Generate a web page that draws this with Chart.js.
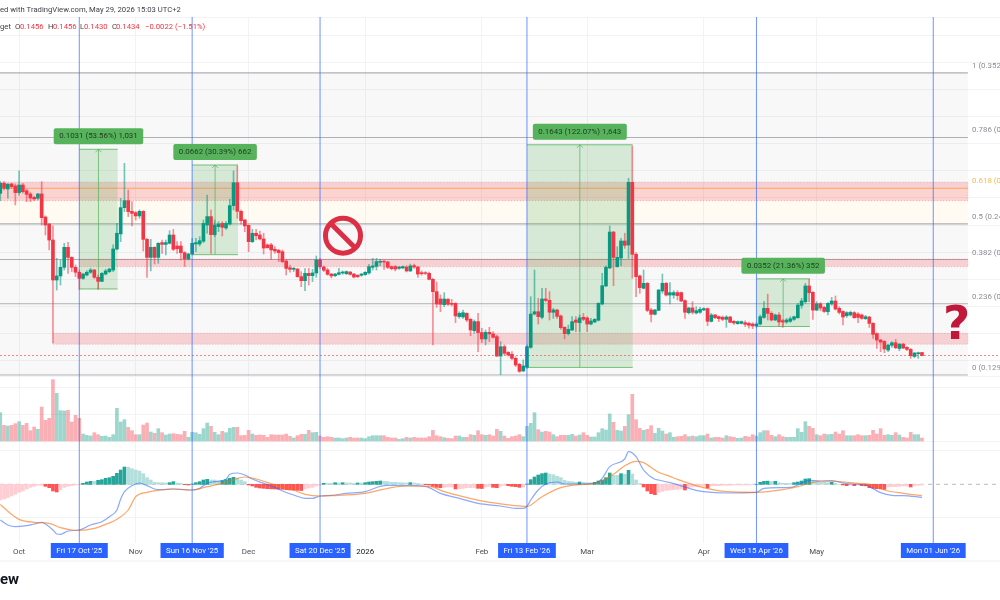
<!DOCTYPE html>
<html>
<head>
<meta charset="utf-8">
<title>Price chart</title>
<script src="https://cdn.jsdelivr.net/npm/chart.js@4/dist/chart.umd.min.js"></script>
<style>
  html, body { margin: 0; padding: 0; background: #fff; }
  canvas { display: block; }
</style>
</head>
<body>
<canvas id="grafico" width="1000" height="600"></canvas>
<script>
// daily candles, first one is 5 days before 1 Oct 2025
const firstDay = -5;

const opens = [
0.2631,0.2705,0.2663,0.2700,0.2685,0.2636,0.2692,0.2650,0.2626,0.2601,
0.2594,0.2626,0.2456,0.2404,0.2286,0.1991,0.2021,0.2085,0.2232,0.2158,
0.2085,0.2048,0.2003,0.2028,0.2048,0.2065,0.2011,0.1981,0.2035,0.2053,
0.2065,0.2220,0.2331,0.2525,0.2577,0.2498,0.2488,0.2464,0.2498,0.2291,
0.2158,0.2232,0.2158,0.2267,0.2254,0.2262,0.2323,0.2242,0.2242,0.2193,
0.2146,0.2183,0.2257,0.2257,0.2277,0.2397,0.2459,0.2326,0.2385,0.2409,
0.2375,0.2404,0.2540,0.2709,0.2498,0.2434,0.2395,0.2274,0.2336,0.2323,
0.2294,0.2250,0.2250,0.2218,0.2210,0.2200,0.2131,0.2082,0.2070,0.2072,
0.2016,0.1986,0.2040,0.2023,0.2043,0.2139,0.2087,0.2065,0.2035,0.2023,
0.2033,0.2043,0.2038,0.2050,0.2035,0.2026,0.2026,0.2031,0.2043,0.2085,
0.2092,0.2122,0.2129,0.2124,0.2090,0.2090,0.2077,0.2080,0.2087,0.2058,
0.2097,0.2087,0.2045,0.2045,0.2040,0.1996,0.1905,0.1851,0.1809,0.1848,
0.1819,0.1819,0.1721,0.1718,0.1745,0.1701,0.1617,0.1684,0.1603,0.1556,
0.1605,0.1593,0.1573,0.1430,0.1499,0.1457,0.1443,0.1413,0.1369,0.1320,
0.1347,0.1494,0.1740,0.1757,0.1716,0.1851,0.1841,0.1753,0.1770,0.1726,
0.1642,0.1595,0.1622,0.1696,0.1676,0.1716,0.1711,0.1666,0.1681,0.1694,
0.1814,0.1947,0.2080,0.2345,0.2090,0.2154,0.2279,0.2249,0.2712,0.2181,
0.2021,0.1930,0.1967,0.1770,0.1738,0.1767,0.1910,0.1967,0.1880,0.1880,
0.1898,0.1898,0.1839,0.1750,0.1785,0.1748,0.1753,0.1770,0.1780,0.1686,
0.1733,0.1721,0.1716,0.1701,0.1718,0.1686,0.1669,0.1671,0.1676,0.1671,
0.1666,0.1652,0.1666,0.1715,0.1782,0.1745,0.1696,0.1733,0.1691,0.1681,
0.1686,0.1701,0.1713,0.1804,0.1831,0.1947,0.1900,0.1769,0.1816,0.1789,
0.1757,0.1814,0.1836,0.1782,0.1759,0.1728,0.1733,0.1750,0.1740,0.1733,
0.1705,0.1718,0.1671,0.1595,0.1548,0.1538,0.1474,0.1509,0.1528,0.1486,
0.1518,0.1494,0.1479,0.1427,0.1447,0.1456];

const highs = [
0.2717,0.2717,0.2705,0.2705,0.2700,0.2796,0.2705,0.2660,0.2636,0.2611,
0.2631,0.2717,0.2464,0.2409,0.2390,0.2151,0.2139,0.2262,0.2269,0.2163,
0.2102,0.2065,0.2040,0.2060,0.2077,0.2070,0.2028,0.2045,0.2070,0.2077,
0.2250,0.2409,0.2594,0.2852,0.2655,0.2569,0.2496,0.2508,0.2503,0.2299,
0.2291,0.2237,0.2267,0.2286,0.2286,0.2355,0.2365,0.2274,0.2274,0.2200,
0.2188,0.2299,0.2299,0.2311,0.2434,0.2618,0.2508,0.2434,0.2422,0.2422,
0.2422,0.2587,0.2796,0.2833,0.2508,0.2439,0.2397,0.2365,0.2365,0.2353,
0.2336,0.2257,0.2262,0.2237,0.2218,0.2213,0.2139,0.2102,0.2085,0.2077,
0.2053,0.2075,0.2077,0.2070,0.2168,0.2151,0.2095,0.2077,0.2040,0.2040,
0.2077,0.2058,0.2058,0.2053,0.2040,0.2031,0.2040,0.2053,0.2107,0.2151,
0.2151,0.2144,0.2139,0.2129,0.2095,0.2099,0.2092,0.2095,0.2097,0.2109,
0.2109,0.2092,0.2058,0.2053,0.2050,0.2003,0.1976,0.1881,0.1898,0.1856,
0.1848,0.1824,0.1757,0.1770,0.1750,0.1708,0.1696,0.1745,0.1635,0.1622,
0.1642,0.1610,0.1585,0.1536,0.1512,0.1462,0.1462,0.1425,0.1376,0.1401,
0.1512,0.1868,0.2065,0.1856,0.1930,0.1930,0.1905,0.1782,0.1777,0.1733,
0.1647,0.1659,0.1721,0.1721,0.1733,0.1745,0.1721,0.1708,0.1706,0.1824,
0.2040,0.2095,0.2390,0.2350,0.2237,0.2299,0.2336,0.2742,0.2980,0.2193,
0.2028,0.2065,0.1972,0.1782,0.1775,0.1922,0.2035,0.1972,0.1972,0.1912,
0.1912,0.1903,0.1844,0.1789,0.1831,0.1794,0.1789,0.1787,0.1785,0.1745,
0.1738,0.1726,0.1726,0.1728,0.1723,0.1691,0.1689,0.1689,0.1689,0.1681,
0.1676,0.1676,0.1733,0.1831,0.1887,0.1757,0.1740,0.1750,0.1701,0.1708,
0.1720,0.1725,0.1819,0.1856,0.1966,0.1996,0.1905,0.1831,0.1824,0.1799,
0.1824,0.1863,0.1873,0.1794,0.1764,0.1757,0.1762,0.1757,0.1750,0.1740,
0.1730,0.1723,0.1676,0.1602,0.1553,0.1543,0.1518,0.1536,0.1553,0.1523,
0.1523,0.1499,0.1486,0.1457,0.1459,0.1456];

const lows = [
0.2577,0.2655,0.2594,0.2668,0.2545,0.2618,0.2631,0.2569,0.2569,0.2577,
0.2582,0.2397,0.2323,0.2213,0.1524,0.1917,0.1954,0.2065,0.2040,0.2053,
0.2016,0.1922,0.1996,0.2021,0.2040,0.2003,0.1922,0.1979,0.2028,0.2045,
0.2053,0.2213,0.2274,0.2496,0.2459,0.2390,0.2434,0.2446,0.2205,0.2011,
0.2058,0.2109,0.2114,0.2188,0.2176,0.2257,0.2208,0.2188,0.2139,0.2090,
0.2139,0.2176,0.2200,0.2242,0.2267,0.2336,0.2188,0.2311,0.2348,0.2316,
0.2365,0.2397,0.2508,0.2446,0.2404,0.2348,0.2200,0.2267,0.2286,0.2286,
0.2183,0.2225,0.2144,0.2188,0.2127,0.2119,0.2028,0.2048,0.2053,0.2011,
0.1942,0.1912,0.1954,0.1979,0.2011,0.2077,0.2053,0.2026,0.2006,0.2016,
0.2028,0.2033,0.2031,0.2026,0.2006,0.2008,0.2018,0.2026,0.2035,0.2065,
0.2065,0.2095,0.2070,0.2075,0.2065,0.2058,0.2070,0.2075,0.2050,0.2053,
0.2077,0.2011,0.2026,0.2031,0.1991,0.1512,0.1789,0.1757,0.1794,0.1804,
0.1799,0.1676,0.1708,0.1708,0.1684,0.1580,0.1598,0.1462,0.1529,0.1512,
0.1536,0.1561,0.1425,0.1293,0.1438,0.1430,0.1401,0.1352,0.1310,0.1315,
0.1339,0.1487,0.1733,0.1666,0.1703,0.1831,0.1696,0.1708,0.1708,0.1627,
0.1556,0.1585,0.1617,0.1610,0.1610,0.1691,0.1610,0.1659,0.1676,0.1689,
0.1807,0.1942,0.2075,0.1949,0.2085,0.2097,0.2225,0.2151,0.2004,0.1868,
0.1893,0.1925,0.1757,0.1681,0.1733,0.1765,0.1893,0.1873,0.1814,0.1856,
0.1844,0.1831,0.1708,0.1740,0.1740,0.1740,0.1745,0.1765,0.1654,0.1681,
0.1706,0.1684,0.1691,0.1642,0.1676,0.1664,0.1664,0.1666,0.1647,0.1635,
0.1632,0.1642,0.1659,0.1708,0.1696,0.1688,0.1691,0.1651,0.1641,0.1671,
0.1678,0.1693,0.1708,0.1782,0.1819,0.1831,0.1701,0.1764,0.1764,0.1752,
0.1733,0.1804,0.1769,0.1740,0.1659,0.1715,0.1725,0.1708,0.1676,0.1701,
0.1701,0.1641,0.1560,0.1486,0.1462,0.1455,0.1462,0.1494,0.1484,0.1469,
0.1484,0.1469,0.1413,0.1418,0.1413,0.1430];

const closes = [
0.2705,0.2668,0.2697,0.2680,0.2636,0.2692,0.2643,0.2623,0.2596,0.2589,
0.2626,0.2451,0.2397,0.2286,0.1991,0.2021,0.2085,0.2232,0.2158,0.2085,
0.2048,0.2003,0.2035,0.2048,0.2065,0.2011,0.1981,0.2040,0.2058,0.2072,
0.2220,0.2336,0.2525,0.2577,0.2496,0.2483,0.2464,0.2498,0.2291,0.2158,
0.2232,0.2158,0.2262,0.2254,0.2267,0.2323,0.2218,0.2222,0.2193,0.2146,
0.2183,0.2262,0.2267,0.2281,0.2409,0.2459,0.2326,0.2397,0.2404,0.2380,
0.2409,0.2540,0.2709,0.2498,0.2429,0.2390,0.2274,0.2336,0.2318,0.2294,
0.2227,0.2230,0.2213,0.2205,0.2193,0.2127,0.2077,0.2070,0.2077,0.2016,
0.1986,0.2040,0.2023,0.2043,0.2139,0.2090,0.2063,0.2033,0.2021,0.2035,
0.2045,0.2050,0.2053,0.2033,0.2013,0.2016,0.2035,0.2048,0.2090,0.2095,
0.2127,0.2129,0.2124,0.2085,0.2075,0.2072,0.2087,0.2090,0.2058,0.2095,
0.2087,0.2035,0.2038,0.2040,0.1996,0.1905,0.1814,0.1812,0.1851,0.1812,
0.1812,0.1726,0.1745,0.1750,0.1696,0.1622,0.1684,0.1603,0.1556,0.1605,
0.1593,0.1568,0.1430,0.1499,0.1450,0.1438,0.1413,0.1364,0.1317,0.1357,
0.1499,0.1740,0.1757,0.1721,0.1851,0.1841,0.1753,0.1770,0.1723,0.1639,
0.1595,0.1627,0.1684,0.1679,0.1711,0.1701,0.1666,0.1689,0.1701,0.1819,
0.1949,0.2085,0.2345,0.2158,0.2158,0.2279,0.2247,0.2712,0.2181,0.2016,
0.1935,0.1967,0.1767,0.1738,0.1770,0.1917,0.1967,0.1880,0.1898,0.1898,
0.1876,0.1836,0.1753,0.1785,0.1753,0.1765,0.1775,0.1780,0.1686,0.1733,
0.1713,0.1706,0.1701,0.1718,0.1679,0.1674,0.1684,0.1684,0.1664,0.1657,
0.1652,0.1666,0.1720,0.1782,0.1745,0.1696,0.1733,0.1681,0.1681,0.1696,
0.1705,0.1720,0.1806,0.1836,0.1947,0.1897,0.1769,0.1816,0.1784,0.1759,
0.1819,0.1836,0.1777,0.1752,0.1718,0.1750,0.1752,0.1713,0.1715,0.1708,
0.1720,0.1671,0.1590,0.1548,0.1533,0.1482,0.1511,0.1528,0.1491,0.1518,
0.1489,0.1479,0.1432,0.1452,0.1454,0.1434];

const volumes = [
85,47,45,47,52,58,47,53,31,42,
35,102,62,68,184,143,91,90,92,57,
77,68,21,17,15,25,19,14,15,11,
19,98,57,64,41,31,19,19,48,54,
27,23,37,25,18,21,22,20,19,29,
11,26,25,20,37,54,44,26,19,29,
25,38,41,41,16,17,32,21,17,18,
17,11,19,18,18,18,21,14,9,16,
20,20,32,25,26,15,11,13,11,9,
9,7,9,11,9,9,9,7,13,16,
16,16,16,11,9,9,5,7,11,9,
11,9,9,9,13,32,16,13,10,8,
7,15,15,11,11,19,17,31,19,17,
19,15,35,29,15,8,13,15,19,13,
44,53,85,34,27,29,27,19,13,17,
17,17,20,15,18,25,17,12,12,25,
37,33,81,56,32,30,44,79,140,64,
38,32,35,46,23,38,30,21,25,11,
13,14,19,13,15,13,16,16,21,9,
11,11,9,16,13,11,8,9,14,12,
19,15,25,31,31,17,13,19,13,11,
11,11,37,26,58,44,38,19,16,21,
19,20,27,21,31,16,16,16,19,16,
16,17,32,21,37,17,19,17,25,18,
11,9,26,19,19,9];

const histogram = [
-47,-44,-40,-35,-30,-24,-20,-14,-9,-6,
-3,-3,-6,-10,-20,-23,-16,-9,-6,-4,
-2,-1,3,7,9,9,12,14,18,20,
24,33,43,52,51,47,43,40,32,20,
13,6,5,5,4,5,8,4,3,-1,
-2,1,5,8,13,15,13,13,10,11,
14,18,21,19,13,8,-2,-5,-9,-11,
-12,-13,-13.5,-14,-14.5,-15,-16,-17,-17.5,-18,
-18.5,-14,-11,-9,-5,-2,3,3,3,5,
4,5,4,4,2,4,4,5,7,8,
9,10,9,8,6,6,5,5,4,5,
4,2,1,-1,-2,-6,-9,-10,-9,-8,
-8,-14,-14,-12,-10,-10,-10,-12,-12.5,-8,
-6,-9,-10,-5,-3,-4,-6,-7,-9,-8,
1,14,22,28,32,34,31,29,24,20,
12,9,8,6,7,6,5,5,6,10,
13,20,34,27,27,32,30,42,31,13,
2,-8,-20,-28,-31,-24,-21,-18,-17,-16,
-15,-14,-17,-10,-8,-6,-5,-5,-11,-5,
-4,-4,-3,-3,-3,-2,-2,-2,-2,-2,
-1,0,6,9,9.5,8,9,5,3,3,
3,5,7,10,16,17,10,8,6,6,
5,6,3,0,-2,-4,-2,-4,-3,-4,
-4.5,-10,-12,-13,-14,-15,-8,-7,-7,-6,
-5,-5,-8,-4,-3,-2];

const macdDays = [-5,-3,-1,2,4,6,7,9,10,11,13,16,19,22,24,26,27,28,30,32,34,36,38,41,44,46,48,50,52,55,56,58,60,62,65,68,70,73,76,78,80,83,87,92,94,96,98,104,108,112,117,122,128,132,134,135,136,138,140,143,145,149,153,155,157,161,162,164,166,169,170,173,174,180,182,188,196,198,205,207,210,213,216,220,225,229,232,235,240];
const macdValues = [-107,-122,-127,-124,-119,-114,-119,-137,-149,-150,-140,-137,-122,-112,-97,-77,-44,-22,-4,4,-4,-14,-16,-14,-16,-17,-12,3,8,15,30,34,28,16,3,-9,-20,-32,-42,-42,-35,-33,-27,-22,-14,-6,-3,-4,-6,-27,-42,-57,-65,-72,-72,-66,-47,-17,1,7,1,1,3,18,53,76,98,83,43,15,13,5,2,-18,-22,-26,-24,-12,-9,-2,12,10,11,2,-2,-25,-33,-34,-39];

const signalDays = [-5,-2,0,4,8,11,14,16,20,23,26,29,31,34,37,41,46,50,55,60,63,68,73,76,80,83,92,98,103,109,113,118,124,129,135,139,144,149,153,158,161,164,166,169,170,173,175,182,188,196,204,207,211,215,223,227,230,235,240];
const signalValues = [-60,-90,-105,-114,-117,-130,-137,-138,-132,-120,-105,-77,-37,-24,-18,-14,-17,-7,6,22,16,-2,-17,-30,-35,-34,-27,-12,-5,-6,-22,-37,-52,-60,-66,-37,-10,-1,2,30,56,69,65,43,36,24,15,-10,-22,-24,-14,-7,6,10,3,-2,-17,-27,-34];

const tickDays = [0,31,61,92,123,151,182,212];
const tickLabels = ['Oct','Nov','Dec','2026','Feb','Mar','Apr','May'];

const markerDays = [16,46,80,135,196,243];
const markerLabels = ["Fri 17 Oct '25","Sun 16 Nov '25","Sat 20 Dec '25","Fri 13 Feb '26","Wed 15 Apr '26","Mon 01 Jun '26"];

const fibRatios = ['1','0.786','0.618','0.5','0.382','0.236','0'];
const fibPrices = [0.3520,0.3043,0.2668,0.2405,0.2142,0.1816,0.1290];
const fibEndDay = 252.2;

const zoneStartDays = [-6,16,9.1];
const zoneTops = [0.2714,0.2146,0.1598];
const zoneBottoms = [0.2576,0.2089,0.1517];

const toolStartDays = [16,46,135,196];
const toolEndDays = [26.2,58.2,163.1,210.2];
const toolLows = [0.1925,0.2178,0.1346,0.1648];
const toolHighs = [0.2956,0.2840,0.2989,0.2000];
const toolTexts = ['0.1031 (53.56%) 1,031','0.0662 (30.39%) 662','0.1643 (122.07%) 1,643','0.0352 (21.36%) 352'];

const gridPrices = [0.1283,0.14,0.16,0.18,0.20,0.22,0.24,0.26,0.28,0.30,0.32,0.34,0.36,0.38,0.3932];
const gridVolumes = [0,81,162];
const gridMacd = [-98,103];

const lastPrice = 0.1434;
const noEntryDay = 86.1;
const noEntryPrice = 0.2318;
const questionDay = 249.2;
const questionPrice = 0.1645;

const days = opens.map((_, i) => firstDay + i);
const RED = '#f23645';
const GREEN = '#089981';
const FONT = 'Roboto, sans-serif';

function hexAlpha(cor, a) {
    const n = parseInt(cor.slice(1), 16);
    return `rgba(${n >> 16}, ${(n >> 8) & 255}, ${n & 255}, ${a})`;
}

const candleColors = closes.map((c, i) => c >= opens[i] ? GREEN : RED);

const histColors = histogram.map((v, i) => {
    const prev = i > 0 ? histogram[i - 1] : v;
    if (v >= 0) return v > prev ? '#26a69a' : '#b2dfdb';
    return v < prev ? '#ff5252' : '#ffcdd2';
});

function hline(ctx, x1, x2, y, cor, largura, dash) {
    ctx.save();
    ctx.strokeStyle = cor;
    ctx.lineWidth = largura;
    ctx.setLineDash(dash || []);
    ctx.beginPath();
    ctx.moveTo(x1, y);
    ctx.lineTo(x2, y);
    ctx.stroke();
    ctx.restore();
}

// fibonacci bands, zones and measure boxes, under the candles
const fundoPlugin = {
    id: 'fundo',
    beforeDatasetsDraw(chart) {
        const { ctx, scales } = chart;
        const xs = scales.x, ys = scales.yPreco;
        const fimFib = xs.getPixelForValue(fibEndDay);

        gridPrices.forEach(p => hline(ctx, 0, 1000, Math.round(ys.getPixelForValue(p)) + 0.5, '#f2f3f5', 1));
        gridVolumes.forEach(v => hline(ctx, 0, 1000, Math.round(scales.yVolume.getPixelForValue(v)) + 0.5, '#f2f3f5', 1));
        gridMacd.forEach(v => hline(ctx, 0, 1000, Math.round(scales.yMacd.getPixelForValue(v)) + 0.5, '#f2f3f5', 1));

        fibPrices.forEach((p, i) => {
            if (i === 0) return;
            const y1 = ys.getPixelForValue(fibPrices[i - 1]);
            const y2 = ys.getPixelForValue(p);
            ctx.fillStyle = fibRatios[i] === '0.5' ? 'rgba(255,183,77,0.07)' : 'rgba(120,123,134,0.055)';
            ctx.fillRect(0, y1, fimFib, y2 - y1);
        });
        fibPrices.forEach((p, i) => {
            const y = ys.getPixelForValue(p);
            if (fibRatios[i] === '0.618') hline(ctx, 0, fimFib, y, '#ffc05c', 1.1);
            else hline(ctx, 0, fimFib, y, 'rgba(120,123,134,0.58)', 1.1);
        });

        zoneTops.forEach((top, i) => {
            const x1 = xs.getPixelForValue(zoneStartDays[i]);
            const y1 = ys.getPixelForValue(top);
            const y2 = ys.getPixelForValue(zoneBottoms[i]);
            ctx.fillStyle = 'rgba(242,54,69,0.2)';
            ctx.fillRect(x1, y1, fimFib - x1, y2 - y1);
            ctx.save();
            ctx.strokeStyle = 'rgba(242,54,69,0.32)';
            ctx.setLineDash([1, 2]);
            ctx.strokeRect(x1, y1, fimFib - x1, y2 - y1);
            ctx.restore();
        });

        toolHighs.forEach((top, i) => {
            const x1 = xs.getPixelForValue(toolStartDays[i]);
            const x2 = xs.getPixelForValue(toolEndDays[i]);
            const y1 = ys.getPixelForValue(top);
            const y2 = ys.getPixelForValue(toolLows[i]);
            const meio = (x1 + x2) / 2;
            ctx.fillStyle = 'rgba(76,175,80,0.2)';
            ctx.fillRect(x1, y1, x2 - x1, y2 - y1);
            hline(ctx, x1, x2, y1, 'rgba(76,175,80,0.75)', 1);
            hline(ctx, x1, x2, y2, 'rgba(76,175,80,0.75)', 1);
            ctx.strokeStyle = 'rgba(76,175,80,0.65)';
            ctx.lineWidth = 1;
            ctx.beginPath();
            ctx.moveTo(meio, y2);
            ctx.lineTo(meio, y1);
            ctx.moveTo(meio - 3, y1 + 3);
            ctx.lineTo(meio, y1);
            ctx.lineTo(meio + 3, y1 + 3);
            ctx.stroke();
        });

        hline(ctx, 0, 1000, Math.round(ys.getPixelForValue(lastPrice)) + 0.5, 'rgba(242,54,69,0.6)', 1, [2, 2]);
        hline(ctx, 0, 1000, scales.yMacd.getPixelForValue(0), 'rgba(120,123,134,0.5)', 1, [4, 4]);
    },
    afterDatasetsDraw(chart) {
        const { ctx, scales } = chart;
        const xs = scales.x, ys = scales.yPreco;

        markerDays.forEach(d => {
            const x = xs.getPixelForValue(d);
            ctx.strokeStyle = 'rgba(41,98,255,0.68)';
            ctx.lineWidth = 1;
            ctx.beginPath();
            ctx.moveTo(x, chart.chartArea.top);
            ctx.lineTo(x, chart.chartArea.bottom);
            ctx.stroke();
        });

        // profit labels above the measure boxes
        ctx.font = '7.9px ' + FONT;
        ctx.textAlign = 'center';
        ctx.textBaseline = 'middle';
        toolTexts.forEach((t, i) => {
            const meio = (xs.getPixelForValue(toolStartDays[i]) + xs.getPixelForValue(toolEndDays[i])) / 2;
            const topo = ys.getPixelForValue(toolHighs[i]);
            const w = ctx.measureText(t).width + 11;
            ctx.fillStyle = '#56b25b';
            ctx.beginPath();
            ctx.roundRect(meio - w / 2, topo - 21, w, 16, 2);
            ctx.fill();
            ctx.fillStyle = '#1d3b20';
            ctx.fillText(t, meio, topo - 13);
        });

        // no-entry sign
        const cx = xs.getPixelForValue(noEntryDay);
        const cy = ys.getPixelForValue(noEntryPrice);
        ctx.strokeStyle = '#dc2f45';
        ctx.lineWidth = 5;
        ctx.beginPath();
        ctx.arc(cx, cy, 17.5, 0, Math.PI * 2);
        ctx.moveTo(cx - 12, cy - 12);
        ctx.lineTo(cx + 12, cy + 12);
        ctx.stroke();

        ctx.fillStyle = '#c1173a';
        ctx.font = 'bold 47px "DejaVu Sans"';
        ctx.fillText('?', xs.getPixelForValue(questionDay), ys.getPixelForValue(questionPrice));

        // fibonacci ratios on the right
        ctx.font = '7.9px ' + FONT;
        ctx.textAlign = 'left';
        ctx.textBaseline = 'alphabetic';
        fibPrices.forEach((p, i) => {
            ctx.fillStyle = fibRatios[i] === '0.618' ? '#ffb74d' : '#8a8d96';
            ctx.fillText(fibRatios[i] + ' (' + p.toFixed(4) + ')', 972, ys.getPixelForValue(p) - 5);
        });
    },
    afterDraw(chart) {
        const { ctx, scales } = chart;
        const xs = scales.x;

        hline(ctx, 0, 1000, 561, '#eceef1', 1);

        ctx.textBaseline = 'middle';
        ctx.textAlign = 'center';
        ctx.font = '7.9px ' + FONT;
        markerDays.forEach((d, i) => {
            const x = xs.getPixelForValue(d);
            const w = ctx.measureText(markerLabels[i]).width + 11;
            ctx.fillStyle = '#2962ff';
            ctx.fillRect(x - w / 2, 543, w, 15);
            ctx.fillStyle = '#fff';
            ctx.fillText(markerLabels[i], x, 551);
        });

        ctx.textAlign = 'left';
        ctx.fillStyle = '#3c3f47';
        ctx.font = '7.7px ' + FONT;
        ctx.fillText('ed with TradingView.com, May 29, 2026 15:03 UTC+2', 0, 10);
        ctx.fillText('get', 0, 27);

        const partes = [['O', 15, '#3c3f47'], ['0.1456', 20, RED], ['H', 48, '#3c3f47'], ['0.1456', 53, RED],
            ['L', 80, '#3c3f47'], ['0.1430', 84, RED], ['C', 112, '#3c3f47'], ['0.1434', 116, RED], ['\u22120.0022 (\u22121.51%)', 145, RED]];
        partes.forEach(([t, x, cor]) => {
            ctx.fillStyle = cor;
            ctx.fillText(t, x, 27);
        });

        ctx.fillStyle = '#131722';
        ctx.font = 'bold 15px ' + FONT;
        ctx.fillText('ew', 0, 580);
    }
};

new Chart(document.getElementById('grafico').getContext('2d'), {
    data: {
        datasets: [
            {
                type: 'line', xAxisID: 'x', yAxisID: 'yMacd', order: 0,
                data: macdDays.map((d, i) => ({ x: d, y: macdValues[i] })),
                borderColor: 'rgba(41,98,255,0.55)', borderWidth: 1.2, pointRadius: 0,
                cubicInterpolationMode: 'monotone'
            },
            {
                type: 'line', xAxisID: 'x', yAxisID: 'yMacd', order: -1,
                data: signalDays.map((d, i) => ({ x: d, y: signalValues[i] })),
                borderColor: 'rgba(255,109,0,0.6)', borderWidth: 1.2, pointRadius: 0,
                cubicInterpolationMode: 'monotone'
            },
            {
                type: 'bar', xAxisID: 'x', yAxisID: 'yMacd', order: 3, grouped: false,
                data: days.map((d, i) => ({ x: d, y: histogram[i] })),
                backgroundColor: histColors, barThickness: 3
            },
            {
                type: 'bar', xAxisID: 'x', yAxisID: 'yVolume', order: 3, grouped: false,
                data: days.map((d, i) => ({ x: d, y: volumes[i] })),
                backgroundColor: candleColors.map(c => hexAlpha(c, 0.4)), barThickness: 3
            },
            {
                // wicks
                type: 'bar', xAxisID: 'x', yAxisID: 'yPreco', order: 2, grouped: false,
                data: days.map((d, i) => ({ x: d, y: [lows[i], highs[i]] })),
                backgroundColor: candleColors.map(c => hexAlpha(c, 0.55)), barThickness: 1
            },
            {
                // bodies
                type: 'bar', xAxisID: 'x', yAxisID: 'yPreco', order: 1, grouped: false,
                data: days.map((d, i) => ({ x: d, y: [Math.min(opens[i], closes[i]), Math.max(opens[i], closes[i])] })),
                backgroundColor: candleColors, barThickness: 3
            }
        ]
    },
    options: {
        responsive: false,
        animation: false,
        devicePixelRatio: 1,
        layout: { autoPadding: false, padding: { top: 17, left: 0, right: 0, bottom: 0 } },
        plugins: { legend: { display: false }, tooltip: { enabled: false } },
        scales: {
            x: {
                type: 'linear',
                offset: false,
                min: -5.077,
                max: 260.74,
                afterBuildTicks: s => { s.ticks = tickDays.map(v => ({ value: v })); },
                afterFit: s => { s.height = 57; },
                grid: { color: '#f2f3f5', drawTicks: false, offset: false },
                border: { display: false },
                ticks: {
                    autoSkip: false,
                    maxRotation: 0,
                    padding: 4,
                    color: c => c.index === 3 ? '#131722' : '#4a4d55',
                    font: { family: 'Roboto', size: 7.9 },
                    callback: (v, i) => tickLabels[i]
                }
            },
            yPreco: { display: false, position: 'left', min: 0.00502, max: 0.3932 },
            yVolume: { display: false, position: 'left', min: -306, max: 1272 },
            yMacd: { display: false, position: 'left', min: -176, max: 1402 }
        }
    },
    plugins: [fundoPlugin]
});
</script>
</body>
</html>
